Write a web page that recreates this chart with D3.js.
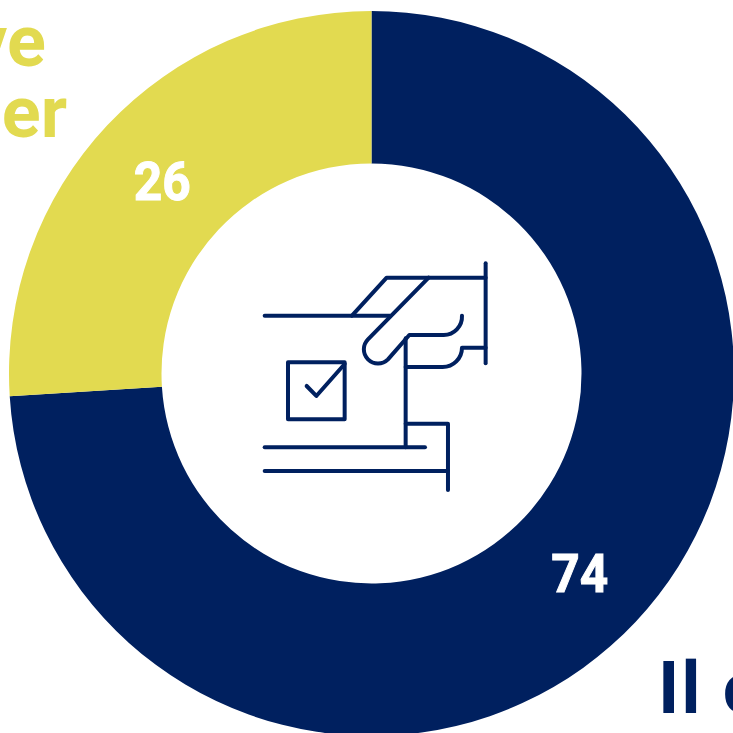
<!DOCTYPE html>
<html>
<head>
<meta charset="utf-8">
<script src="https://cdn.jsdelivr.net/npm/d3@7.9.0/dist/d3.min.js"></script>
<style>
  html, body { margin: 0; padding: 0; background: #fff; overflow: hidden; }
  svg { display: block; }
  text { font-family: Roboto, sans-serif; font-weight: 700; }
</style>
</head>
<body>
<svg width="733" height="733"></svg>
<script>
const categories = ['Il c', 'ver'];
const values = [74, 26];
const sliceColors = ['#00205f', '#e2da50'];

const svg = d3.select('svg');
const ring = svg.append('g').attr('transform', 'translate(371.5,373.5)');

const pie = d3.pie().sort(null).value(d => d);
const arc = d3.arc().innerRadius(210).outerRadius(362.5);
const slices = pie(values);

ring.selectAll('path')
  .data(slices)
  .join('path')
  .attr('d', arc)
  .attr('fill', (d, i) => sliceColors[i]);

// value labels sit on the arc centroids
ring.selectAll('text')
  .data(slices)
  .join('text')
  .attr('x', d => arc.centroid(d)[0] - 0.5)
  .attr('y', d => arc.centroid(d)[1] + 22.5)
  .attr('text-anchor', 'middle')
  .attr('font-size', 54)
  .attr('textLength', 57)
  .attr('lengthAdjust', 'spacingAndGlyphs')
  .attr('fill', '#fff')
  .attr('stroke', '#fff')
  .attr('stroke-width', 1)
  .text(d => d.value);

// category titles, cropped by the page edges
svg.append('text').attr('x', 46).attr('y', 66)
  .attr('text-anchor', 'end').attr('font-size', 72)
  .attr('fill', sliceColors[1]).text('ve');
svg.append('text').attr('x', 67).attr('y', 137)
  .attr('text-anchor', 'end').attr('font-size', 72)
  .attr('fill', sliceColors[1]).text('er');
svg.append('text').attr('x', 658).attr('y', 713)
  .attr('font-size', 73)
  .attr('letter-spacing', 2)
  .attr('fill', sliceColors[0]).text(categories[0]);

// ballot icon in the hole
const icon = svg.append('g')
  .attr('transform', 'translate(240,240) scale(0.3333)')
  .attr('fill', 'none')
  .attr('stroke', sliceColors[0])
  .attr('stroke-width', 12)
  .attr('stroke-linecap', 'round')
  .attr('stroke-linejoin', 'round');

const iconPaths = [
  'M737 70V370',
  'M737 113H440L336 227',
  'M74 227H450',
  'M566 113L384 298A42 42 0 0 0 444 358L508 285H610A55 55 0 0 0 666 227',
  'M737 323H666A58 58 0 0 1 608 381H497',
  'M497 295V622',
  'M497 551H624V750',
  'M74 622H555',
  'M74 693H624',
  'M144 367H314V538H144Z',
  'M200 438L229 468L314 372'
];
icon.selectAll('path').data(iconPaths).join('path').attr('d', d => d);
</script>
</body>
</html>
